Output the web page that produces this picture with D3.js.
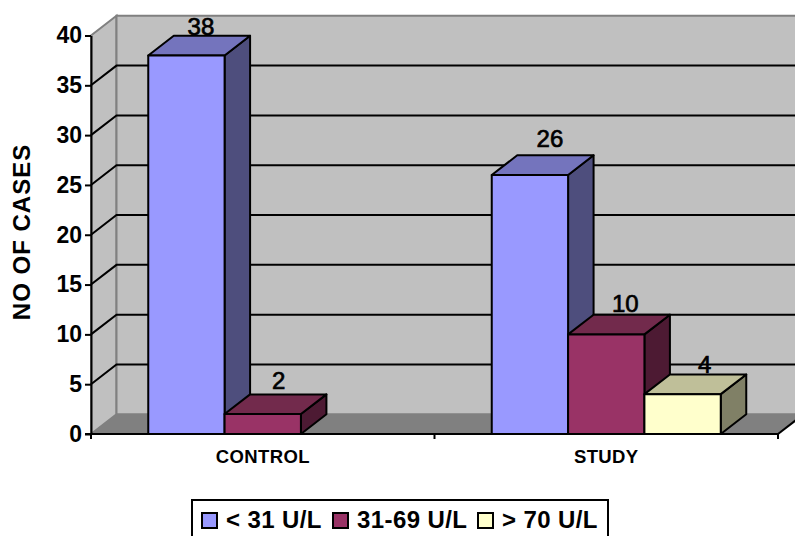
<!DOCTYPE html>
<html>
<head>
<meta charset="utf-8">
<script src="https://cdn.jsdelivr.net/npm/d3@7/dist/d3.min.js"></script>
<style>
  html, body { margin: 0; padding: 0; background: #fff; }
  svg { display: block; }
  text { font-family: "Liberation Sans", Arial, sans-serif; fill: #000; }
</style>
</head>
<body>
<svg id="chart" width="795" height="536"></svg>
<script>
const categories = ["CONTROL", "STUDY"];
const seriesNames = ["< 31 U/L", "31-69 U/L", "> 70 U/L"];
const controlCases = [38, 2, null];
const studyCases = [26, 10, 4];
const yTicks = [0, 5, 10, 15, 20, 25, 30, 35, 40];

const frontColors = ["#9999ff", "#993366", "#ffffcc"];
const topColors = ["#7474bd", "#722a4c", "#bfbf99"];
const sideColors = ["#4e4e7d", "#4d1a33", "#808066"];

// Hand placement of the value labels relative to each bar's top face
const labelShiftX = [[14.5, 16, 0], [20, 19, 22]];
const labelLift = [[1, 5, 0], [8, 3, 1]];

const W = 795;
const depthX = 25.5, depthY = 19.7;
const plotLeft = 91, plotRight = 778, plotBase = 434, plotTop = 35.5;
const fontStack = '"Liberation Sans", Arial, sans-serif';

const svg = d3.select("#chart");
const y = d3.scaleLinear().domain([0, 40]).range([plotBase, plotTop]);
const x0 = d3.scaleBand().domain(categories).range([plotLeft, plotRight]);
const x1 = d3.scaleBand().domain(d3.range(seriesNames.length))
  .range([0, x0.bandwidth()]).paddingOuter(0.75).paddingInner(0);

const poly = pts => pts.map(p => p.join(",")).join(" ");

// Chart box: side wall, back wall and floor
svg.append("polygon")
  .attr("points", poly([[plotLeft, plotTop], [plotLeft + depthX, plotTop - depthY], [plotLeft + depthX, plotBase - depthY], [plotLeft, plotBase]]))
  .attr("fill", "#c0c0c0").attr("stroke", "#808080").attr("stroke-width", 2);
svg.append("polygon")
  .attr("points", poly([[plotLeft + depthX, plotTop - depthY], [W + 5, plotTop - depthY], [W + 5, plotBase - depthY], [plotLeft + depthX, plotBase - depthY]]))
  .attr("fill", "#c0c0c0").attr("stroke", "#808080").attr("stroke-width", 2);
svg.append("polygon")
  .attr("points", poly([[plotLeft, plotBase], [plotLeft + depthX, plotBase - depthY], [plotRight + depthX, plotBase - depthY], [plotRight, plotBase]]))
  .attr("fill", "#808080");

// Gridlines run along the side wall, then across the back wall
const gridValues = yTicks.filter(v => v > 0 && v < 40);
svg.append("g").selectAll("polyline").data(gridValues).join("polyline")
  .attr("points", d => poly([[plotLeft, y(d)], [plotLeft + depthX, y(d) - depthY], [W + 5, y(d) - depthY]]))
  .attr("fill", "none").attr("stroke", "#000").attr("stroke-width", 2);

// Value axis
const yAxis = svg.append("g").attr("transform", `translate(${plotLeft},0)`)
  .call(d3.axisLeft(y).tickValues(yTicks).tickSize(6).tickPadding(3).tickSizeOuter(0));
yAxis.select(".domain").attr("stroke", "#000").attr("stroke-width", 2);
yAxis.selectAll(".tick line").attr("stroke", "#000").attr("stroke-width", 2);
yAxis.selectAll(".tick text")
  .attr("font-size", 23).attr("font-weight", "bold").attr("font-family", fontStack);

// Category axis with tick marks on the band edges
const xAxis = svg.append("g").attr("transform", `translate(0,${plotBase})`)
  .call(d3.axisBottom(x0).tickSize(0).tickPadding(16));
xAxis.select(".domain").attr("d", `M${plotLeft - 6},0H${plotRight}`).attr("stroke", "#000").attr("stroke-width", 2);
xAxis.selectAll(".tick text")
  .attr("font-size", 18.5).attr("font-weight", "bold").attr("letter-spacing", 0.4).attr("font-family", fontStack);
xAxis.selectAll(".edge").data([plotLeft, (plotLeft + plotRight) / 2, plotRight]).join("line")
  .attr("class", "edge").attr("x1", d => d).attr("x2", d => d).attr("y1", 0).attr("y2", 5)
  .attr("stroke", "#000").attr("stroke-width", 2);
svg.append("line")
  .attr("x1", plotRight).attr("y1", plotBase).attr("x2", plotRight + depthX).attr("y2", plotBase - depthY)
  .attr("stroke", "#000").attr("stroke-width", 2);

// Bars, drawn left to right so each one overlaps the previous side face
const rows = [controlCases, studyCases];
rows.forEach((values, c) => {
  const g = svg.append("g").attr("transform", `translate(${x0(categories[c])},0)`);
  values.forEach((v, s) => {
    if (v === null) return;
    const bx = x1(s), bw = x1.bandwidth(), ty = y(v);
    const bar = g.append("g").attr("stroke", "#000").attr("stroke-width", 2).attr("stroke-linejoin", "round");
    bar.append("polygon")
      .attr("points", poly([[bx + bw, ty], [bx + bw + depthX, ty - depthY], [bx + bw + depthX, plotBase - depthY], [bx + bw, plotBase]]))
      .attr("fill", sideColors[s]);
    bar.append("polygon")
      .attr("points", poly([[bx, ty], [bx + depthX, ty - depthY], [bx + bw + depthX, ty - depthY], [bx + bw, ty]]))
      .attr("fill", topColors[s]);
    bar.append("rect")
      .attr("x", bx).attr("y", ty).attr("width", bw).attr("height", plotBase - ty)
      .attr("fill", frontColors[s]);
  });
  values.forEach((v, s) => {
    if (v === null) return;
    g.append("text")
      .attr("x", x1(s) + x1.bandwidth() / 2 + labelShiftX[c][s])
      .attr("y", y(v) - depthY - labelLift[c][s])
      .attr("text-anchor", "middle")
      .attr("font-size", 24).attr("stroke", "#000").attr("stroke-width", 0.7)
      .text(v);
  });
});

// Axis title
svg.append("text")
  .attr("transform", "translate(30,232) rotate(-90)")
  .attr("text-anchor", "middle")
  .attr("font-size", 24).attr("font-weight", "bold").attr("letter-spacing", 1)
  .text("NO OF CASES");

// Legend
const legend = svg.append("g");
legend.append("rect")
  .attr("x", 192).attr("y", 500).attr("width", 416).attr("height", 50)
  .attr("fill", "#fff").attr("stroke", "#000").attr("stroke-width", 2);
const legendX = d3.scaleOrdinal().domain(seriesNames).range([202, 333, 478]);
seriesNames.forEach((name, s) => {
  legend.append("rect")
    .attr("x", legendX(name)).attr("y", 513).attr("width", 15).attr("height", 15)
    .attr("fill", frontColors[s]).attr("stroke", "#000").attr("stroke-width", 2);
  legend.append("text")
    .attr("x", legendX(name) + 24).attr("y", 528)
    .attr("font-size", 24).attr("font-weight", "bold").attr("letter-spacing", 0.4)
    .text(name);
});
</script>
</body>
</html>
